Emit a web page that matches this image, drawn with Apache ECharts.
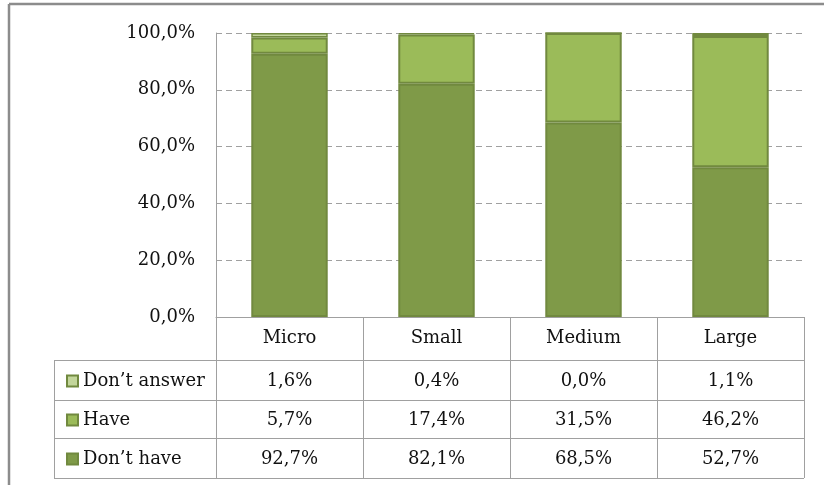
<!DOCTYPE html>
<html>
<head>
<meta charset="utf-8">
<script src="https://cdn.jsdelivr.net/npm/echarts@6/dist/echarts.min.js"></script>
<style>
html,body{margin:0;padding:0;background:#fff;}
#c{width:824px;height:485px;}
</style>
</head>
<body>
<div id="c"></div>
<script>
// ---- data ----
var categories = ['Micro', 'Small', 'Medium', 'Large'];
var dontHave = [92.7, 82.1, 68.5, 52.7];
var have = [5.7, 17.4, 31.5, 46.2];
var dontAnswer = [1.6, 0.4, 0.0, 1.1];
var seriesNames = ['Don\u2019t answer', 'Have', 'Don\u2019t have'];
var yTicks = [0, 20, 40, 60, 80, 100];

function pct(v) { return v.toFixed(1).replace('.', ',') + '%'; }

var FONT = 'DejaVu Serif';
var FS = 18;
var GRAY = '#a0a0a0';
var EDGE = '#71893f';

var chart = echarts.init(document.getElementById('c'), null, {renderer: 'canvas'});

function valueAxis(data, offset, margin) {
  return {
    type: 'category', gridIndex: 0, position: 'bottom', offset: offset,
    data: data.map(pct),
    axisLine: {show: false}, axisTick: {show: false}, splitLine: {show: false},
    axisLabel: {interval: 0, margin: margin, color: '#111', fontFamily: FONT, fontSize: FS, lineHeight: FS}
  };
}

var option = {
  animation: false,
  backgroundColor: '#fff',
  grid: {left: 216, right: 20, top: 33, bottom: 168, containLabel: false},
  legend: {
    orient: 'vertical', left: 61, top: 367, itemGap: 21,
    itemWidth: 11, itemHeight: 11, icon: 'rect',
    data: seriesNames,
    textStyle: {color: '#111', fontFamily: FONT, fontSize: FS, lineHeight: FS},
    selectedMode: false
  },
  xAxis: [
    {
      type: 'category', data: categories, boundaryGap: true,
      axisLine: {show: true, lineStyle: {color: GRAY, width: 1}},
      axisTick: {show: true, interval: 0, length: 161, lineStyle: {color: GRAY, width: 1}},
      axisLabel: {interval: 0, margin: 12, color: '#111', fontFamily: FONT, fontSize: FS, lineHeight: FS},
      splitLine: {show: false}
    },
    valueAxis(dontAnswer, 43, 12),
    valueAxis(have, 83, 11),
    valueAxis(dontHave, 121, 12)
  ],
  yAxis: {
    type: 'value', min: yTicks[0], max: yTicks[yTicks.length - 1], interval: 20,
    axisLine: {show: true, lineStyle: {color: GRAY, width: 1}},
    axisTick: {show: false},
    axisLabel: {margin: 21, color: '#111', fontFamily: FONT, fontSize: FS, formatter: function (v) { return pct(v); }},
    splitLine: {show: true, lineStyle: {color: GRAY, width: 1, type: [6, 4]}}
  },
  series: [
    {name: seriesNames[2], type: 'bar', stack: 's', data: dontHave, barWidth: '52%',
     itemStyle: {color: '#7f9a48', borderColor: EDGE, borderWidth: 2}},
    {name: seriesNames[1], type: 'bar', stack: 's', data: have, barWidth: '52%',
     itemStyle: {color: '#9bbb59', borderColor: EDGE, borderWidth: 2}},
    {name: seriesNames[0], type: 'bar', stack: 's', data: dontAnswer, barWidth: '52%',
     itemStyle: {color: '#c3d69b', borderColor: EDGE, borderWidth: 1.5}}
  ],
  graphic: [
    // outer frame (top & left)
    {type: 'line', shape: {x1: 9, y1: 4, x2: 830, y2: 4}, style: {stroke: '#8c8c8c', lineWidth: 2.5}, silent: true},
    {type: 'line', shape: {x1: 9, y1: 4, x2: 9, y2: 490}, style: {stroke: '#8c8c8c', lineWidth: 2.5}, silent: true},
    // table rows
    {type: 'line', shape: {x1: 54, y1: 360.5, x2: 804, y2: 360.5}, style: {stroke: GRAY, lineWidth: 1}, silent: true},
    {type: 'line', shape: {x1: 54, y1: 400.5, x2: 804, y2: 400.5}, style: {stroke: GRAY, lineWidth: 1}, silent: true},
    {type: 'line', shape: {x1: 54, y1: 438.5, x2: 804, y2: 438.5}, style: {stroke: GRAY, lineWidth: 1}, silent: true},
    {type: 'line', shape: {x1: 54, y1: 478.5, x2: 804, y2: 478.5}, style: {stroke: GRAY, lineWidth: 1}, silent: true},
    {type: 'line', shape: {x1: 54.5, y1: 360, x2: 54.5, y2: 479}, style: {stroke: GRAY, lineWidth: 1}, silent: true}
  ]
};
chart.setOption(option);
</script>
</body>
</html>
